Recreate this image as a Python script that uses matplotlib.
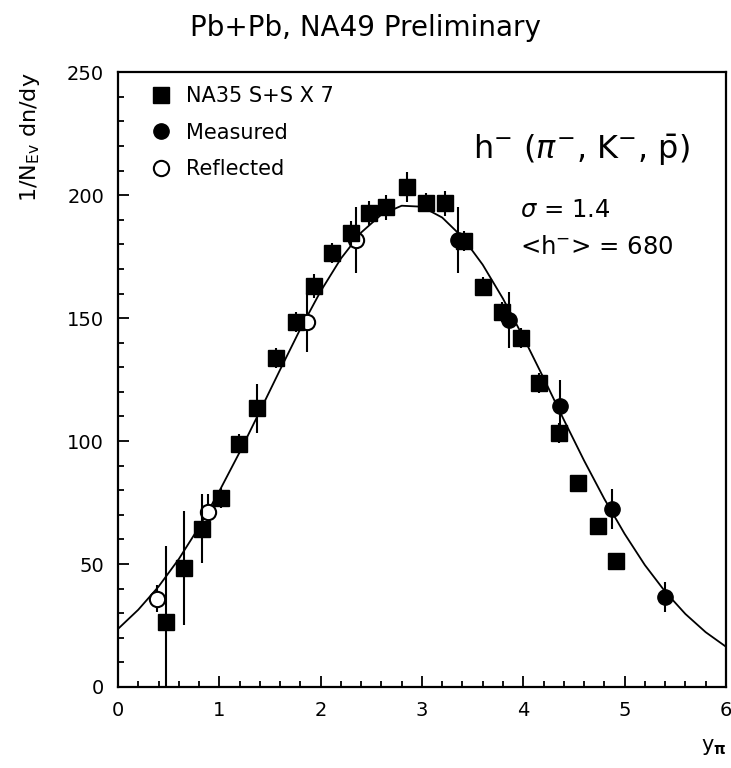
import matplotlib
matplotlib.use("Agg")
import matplotlib.pyplot as plt
from matplotlib.lines import Line2D
from matplotlib.ticker import MultipleLocator

plt.rcParams.update({"font.family": "DejaVu Sans", "mathtext.fontset": "dejavusans"})

# NA35 S+S x 7 (squares)
na35_y = [0.47, 0.65, 0.83, 1.02, 1.19, 1.37, 1.56, 1.76, 1.93, 2.11, 2.30, 2.48, 2.65,
          2.85, 3.04, 3.23, 3.42, 3.60, 3.79, 3.98, 4.16, 4.35, 4.54, 4.74, 4.92]
na35_dn = [26.4, 48.4, 64.3, 76.8, 98.8, 113.4, 133.7, 148.4, 163.0, 176.4, 184.6, 192.7, 195.0,
           203.3, 197.0, 196.7, 181.3, 162.8, 152.4, 141.9, 123.6, 103.3, 82.9, 65.6, 51.2]
na35_err = [31, 23, 14, 4, 4, 10, 4, 4, 5, 4, 5, 5, 5,
            6, 4, 5, 4, 4, 4, 4, 4, 4, 3, 3, 3]

# NA49 measured (filled circles)
meas_y = [3.36, 3.86, 4.36, 4.88, 5.40]
meas_dn = [181.7, 149.2, 114.2, 72.4, 36.6]
meas_err = [13.5, 11.5, 10.5, 8.0, 6.0]

# NA49 reflected (open circles)
refl_y = [0.385, 0.89, 1.87, 2.35]
refl_dn = [35.8, 71.0, 148.4, 181.7]
refl_err = [5.5, 7.5, 12.0, 13.5]

# fitted curve
fit_y = [0.0, 0.2, 0.4, 0.6, 0.8, 1.0, 1.2, 1.4, 1.6, 1.8, 2.0, 2.2, 2.4, 2.6, 2.8, 3.0,
         3.2, 3.4, 3.6, 3.8, 4.0, 4.2, 4.4, 4.6, 4.8, 5.0, 5.2, 5.4, 5.6, 5.8, 6.0]
fit_dn = [23.6, 31.4, 40.8, 52.0, 65.0, 79.6, 95.4, 112.1, 129.0, 145.6, 160.9, 174.2,
          184.8, 192.1, 195.7, 195.3, 190.9, 182.9, 171.7, 157.9, 142.3, 125.7, 108.7,
          92.1, 76.5, 62.3, 49.6, 38.8, 29.7, 22.3, 16.4]

fig = plt.figure(figsize=(7.31, 7.68), dpi=100)
ax = fig.add_axes([0.1614, 0.1055, 0.8316, 0.8005])

ax.plot(fit_y, fit_dn, color="k", lw=1.3, zorder=1)
ax.errorbar(na35_y, na35_dn, yerr=na35_err, fmt="s", color="k", ms=11,
            elinewidth=1.5, capsize=0, zorder=3)
ax.errorbar(meas_y, meas_dn, yerr=meas_err, fmt="o", color="k", ms=11,
            elinewidth=1.5, capsize=0, zorder=3)
ax.errorbar(refl_y, refl_dn, yerr=refl_err, fmt="o", color="k", mfc="white", mec="k",
            mew=1.5, ms=11, elinewidth=1.5, capsize=0, zorder=2)

ax.set_xlim(0, 6)
ax.set_ylim(0, 250)
ax.xaxis.set_major_locator(MultipleLocator(1))
ax.xaxis.set_minor_locator(MultipleLocator(0.2))
ax.yaxis.set_major_locator(MultipleLocator(50))
ax.yaxis.set_minor_locator(MultipleLocator(10))
ax.tick_params(which="both", direction="in", top=False, right=False, labelsize=14, width=1.3)
ax.tick_params(which="major", length=8, pad=10)
ax.tick_params(which="minor", length=4)
for s in ax.spines.values():
    s.set_linewidth(1.6)

ax.set_ylabel(r"1/N$_{\mathrm{Ev}}$ dn/dy", fontsize=16, loc="top", labelpad=18)
ax.set_xlabel(r"y$_{\mathbf{\pi}}$", fontsize=15, loc="right", labelpad=12)
fig.text(0.5, 0.963, "Pb+Pb, NA49 Preliminary", ha="center", va="center", fontsize=20)

ax.text(0.941, 0.873, r"h$^{-}$ ($\pi^{-}$, K$^{-}$, $\bar{\mathrm{p}}$)", transform=ax.transAxes,
        ha="right", va="center", fontsize=23)
ax.text(0.661, 0.776, r"$\sigma$ = 1.4", transform=ax.transAxes, ha="left", va="center",
        fontsize=17.5)
ax.text(0.661, 0.715, r"<h$^{-}$> = 680", transform=ax.transAxes, ha="left", va="center",
        fontsize=17.5)

handles = [
    Line2D([], [], ls="none", marker="s", color="k", ms=11),
    Line2D([], [], ls="none", marker="o", color="k", ms=11),
    Line2D([], [], ls="none", marker="o", mfc="white", mec="k", mew=1.5, ms=11),
]
ax.legend(handles, ["NA35 S+S X 7", "Measured", "Reflected"], loc="upper left",
          bbox_to_anchor=(0.02, 1.008), frameon=False, fontsize=15,
          handletextpad=0.6, labelspacing=0.8, handlelength=1.2)

fig.savefig("out.png", dpi=100)
